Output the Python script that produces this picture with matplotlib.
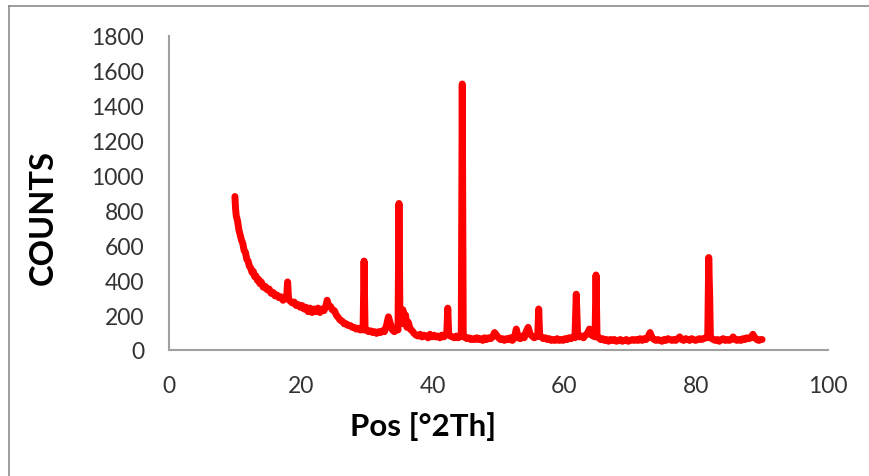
import matplotlib
matplotlib.use("Agg")
import matplotlib.pyplot as plt
from matplotlib.lines import Line2D

# XRD パターン
pos_2th = [10.0, 10.1, 10.2, 10.4, 10.6, 10.8, 11.0, 11.2, 11.4, 11.6, 11.8, 12.0, 12.2, 12.4,
           12.6, 12.8, 13.0, 13.2, 13.4, 13.6, 13.8, 14.0, 14.3, 14.6, 14.9, 15.2, 15.5, 15.8,
           16.1, 16.4, 16.7, 17.0, 17.3, 17.6, 17.85, 18.0, 18.15, 18.4, 18.7, 19.0, 19.3, 19.6,
           19.9, 20.2, 20.5, 20.8, 21.1, 21.4, 21.7, 22.0, 22.3, 22.6, 22.9, 23.2, 23.5, 23.8,
           24.0, 24.2, 24.5, 24.8, 25.1, 25.4, 25.7, 26.0, 26.3, 26.6, 26.9, 27.2, 27.5, 27.8,
           28.1, 28.4, 28.7, 29.0, 29.3, 29.45, 29.6, 29.75, 30.0, 30.3, 30.6, 30.9, 31.2, 31.5,
           31.8, 32.1, 32.4, 32.7, 33.0, 33.3, 33.6, 33.9, 34.2, 34.5, 34.75, 34.9, 35.05, 35.3,
           35.5, 35.7, 35.9, 36.1, 36.3, 36.6, 36.9, 37.2, 37.5, 37.8, 38.1, 38.4, 38.7, 39.0,
           39.3, 39.6, 39.9, 40.2, 40.5, 40.8, 41.1, 41.4, 41.7, 42.0, 42.15, 42.3, 42.45, 42.7,
           43.0, 43.3, 43.6, 43.9, 44.2, 44.35, 44.5, 44.65, 44.9, 45.2, 45.5, 45.8, 46.1, 46.4,
           46.7, 47.0, 47.3, 47.6, 47.9, 48.2, 48.5, 48.8, 49.1, 49.4, 49.7, 50.0, 50.3, 50.6,
           50.9, 51.2, 51.5, 51.8, 52.1, 52.4, 52.7, 53.0, 53.3, 53.6, 53.9, 54.2, 54.5, 54.8,
           55.1, 55.4, 55.7, 55.95, 56.1, 56.25, 56.5, 56.8, 57.1, 57.4, 57.7, 58.0, 58.3, 58.6,
           58.9, 59.2, 59.5, 59.8, 60.1, 60.4, 60.7, 61.0, 61.3, 61.6, 61.8, 62.0, 62.3, 62.6,
           62.9, 63.2, 63.5, 63.8, 64.1, 64.4, 64.65, 64.8, 64.95, 65.2, 65.5, 65.8, 66.1, 66.4,
           66.7, 67.0, 67.3, 67.6, 67.9, 68.2, 68.5, 68.8, 69.1, 69.4, 69.7, 70.0, 70.3, 70.6,
           70.9, 71.2, 71.5, 71.8, 72.1, 72.4, 72.7, 73.0, 73.3, 73.6, 73.9, 74.2, 74.5, 74.8,
           75.1, 75.4, 75.7, 76.0, 76.3, 76.6, 76.9, 77.2, 77.5, 77.8, 78.1, 78.4, 78.7, 79.0,
           79.3, 79.6, 79.9, 80.2, 80.5, 80.8, 81.1, 81.4, 81.75, 81.9, 82.05, 82.15, 82.35, 82.6,
           82.9, 83.2, 83.5, 83.8, 84.1, 84.4, 84.7, 85.0, 85.3, 85.6, 85.9, 86.2, 86.5, 86.8,
           87.1, 87.4, 87.7, 88.0, 88.3, 88.6, 88.9, 89.2, 89.5, 89.8, 90.0]
counts = [880, 810, 770, 740, 690, 660, 630, 610, 570, 560, 520, 510, 480, 470,
          445, 450, 420, 425, 400, 405, 380, 390, 360, 365, 345, 350, 325, 330,
          310, 315, 300, 305, 285, 295, 300, 390, 290, 280, 270, 275, 255, 260,
          245, 255, 235, 245, 220, 240, 215, 235, 220, 240, 215, 235, 225, 250,
          285, 255, 250, 230, 225, 200, 185, 170, 165, 150, 150, 140, 140, 130,
          130, 120, 125, 115, 120, 115, 510, 115, 115, 105, 110, 100, 105, 95,
          105, 100, 110, 105, 140, 190, 150, 115, 105, 120, 115, 840, 150, 180,
          230, 150, 200, 130, 160, 120, 110, 95, 85, 80, 90, 75, 85, 80,
          70, 90, 75, 85, 75, 80, 70, 85, 75, 90, 90, 240, 85, 80,
          75, 70, 80, 70, 85, 80, 1525, 75, 75, 65, 70, 60, 65, 60,
          70, 60, 65, 55, 70, 60, 70, 65, 75, 100, 85, 70, 60, 65,
          55, 65, 60, 70, 55, 70, 120, 70, 65, 80, 70, 105, 130, 90,
          80, 70, 75, 80, 235, 80, 75, 65, 70, 60, 65, 55, 60, 55,
          65, 55, 60, 55, 65, 60, 70, 65, 75, 70, 320, 95, 75, 80,
          70, 85, 95, 120, 85, 80, 75, 430, 80, 70, 60, 65, 55, 60,
          50, 60, 55, 60, 50, 55, 60, 50, 55, 60, 50, 55, 60, 55,
          60, 55, 65, 55, 65, 60, 75, 100, 70, 60, 55, 60, 55, 50,
          60, 55, 65, 60, 55, 60, 55, 65, 75, 60, 55, 65, 60, 55,
          65, 60, 55, 60, 65, 60, 65, 70, 70, 530, 300, 75, 65, 60,
          55, 60, 50, 60, 65, 55, 60, 55, 60, 75, 60, 55, 60, 55,
          65, 60, 70, 65, 70, 90, 70, 60, 55, 60, 60]

x_ticks = [0, 20, 40, 60, 80, 100]
y_ticks = [0, 200, 400, 600, 800, 1000, 1200, 1400, 1600, 1800]

plt.rcParams["font.family"] = ["Lato", "DejaVu Sans"]

W, H = 869, 477
fig = plt.figure(figsize=(W / 100, H / 100), dpi=100)
# 軸の位置 (ピクセル)
left, right, top, bottom = 169, 828, 37, 351
ax = fig.add_axes([left / W, 1 - bottom / H, (right - left) / W, (bottom - top) / H])

ax.plot(pos_2th, counts, color="#ff0000", lw=5.0, solid_joinstyle="round",
        solid_capstyle="round", clip_on=False)

ax.set_xlim(0, 100)
ax.set_ylim(0, 1800)
ax.set_xticks(x_ticks)
ax.set_yticks(y_ticks)
ax.tick_params(length=0, labelsize=16.5, colors="#333333")
ax.tick_params(axis="y", pad=18)
ax.tick_params(axis="x", pad=18)

for s in ["top", "right"]:
    ax.spines[s].set_visible(False)
for s in ["left", "bottom"]:
    ax.spines[s].set_color("#a0a0a0")
    ax.spines[s].set_linewidth(1.5)

fig.text(423 / W, 1 - 427 / H, "Pos [°2Th]", ha="center", va="center",
         fontsize=22.5, fontweight="bold")
fig.text(43 / W, 1 - 218 / H, "COUNTS", ha="center", va="center",
         fontsize=23.5, fontweight="bold", rotation=90)

# 外枠 (上と左のみ)
fig.add_artist(Line2D([9 / W, 9 / W], [0, 1 - 7 / H], color="#8c8c8c", lw=1.2))
fig.add_artist(Line2D([9 / W, 1], [1 - 7 / H, 1 - 7 / H], color="#8c8c8c", lw=1.2))

fig.savefig("out.png", dpi=100)
